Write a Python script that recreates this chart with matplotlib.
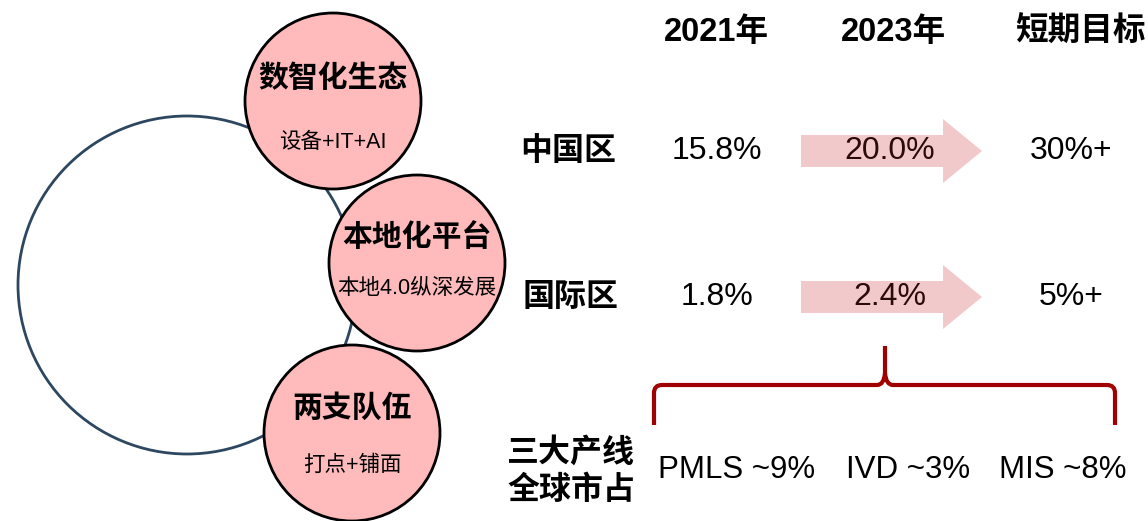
import matplotlib
matplotlib.use("Agg")
import matplotlib.pyplot as plt
import matplotlib.patches as mpatches
from matplotlib.path import Path

plt.rcParams['font.family'] = ['Liberation Sans', 'Noto Sans CJK SC', 'DejaVu Sans']

# data
columns = ["2021年", "2023年", "短期目标"]
regions = ["中国区", "国际区"]
share_2021 = ["15.8%", "1.8%"]
share_2023 = ["20.0%", "2.4%"]
share_target = ["30%+", "5%+"]
pillars = ["数智化生态", "本地化平台", "两支队伍"]
pillar_notes = ["设备+IT+AI", "本地4.0纵深发展", "打点+铺面"]
line_label = ["三大产线", "全球市占"]
line_shares = ["PMLS ~9%", "IVD ~3%", "MIS ~8%"]

fig = plt.figure(figsize=(11.48, 5.21), dpi=100)
ax = fig.add_axes([0, 0, 1, 1])
ax.set_xlim(0, 1148)
ax.set_ylim(521, 0)
ax.axis('off')

cjk = ['Noto Sans CJK SC', 'DejaVu Sans']

# big ring
ax.add_patch(mpatches.Circle((187, 285), 169, fill=False, ec='#2d4760', lw=2, zorder=1))

# three pillar circles
centers = [(333, 101), (417, 263), (352, 433)]
title_dy = [-23, -26, -25]
note_dy = [41, 25, 32]
for (cx, cy), name, note, tdy, ndy in zip(centers, pillars, pillar_notes, title_dy, note_dy):
    ax.add_patch(mpatches.Circle((cx, cy), 88, fc='#ffbbbb', ec='black', lw=2, zorder=2))
    ax.text(cx, cy + tdy, name, ha='center', va='center', fontsize=21.5,
            fontweight='bold', family=cjk, zorder=3)
    ax.text(cx, cy + ndy, note, ha='center', va='center', fontsize=15.5,
            family=['Liberation Sans', 'Noto Sans CJK SC'], zorder=3)

# table header
col_x = [716, 893, 1080]
for x, c in zip(col_x, columns):
    ax.text(x, 32, c, ha='center', va='center', fontsize=23.5, fontweight='bold')

# rows with arrows
row_y = [151, 297]
label_x = [568, 571]
for i, y in enumerate(row_y):
    ax.text(label_x[i], y, regions[i], ha='center', va='center', fontsize=23,
            fontweight='bold', family=cjk)
    ax.add_patch(mpatches.FancyArrow(801, y, 181, 0, width=32, head_width=64,
                                     head_length=39, length_includes_head=True,
                                     fc='#f2c9cb', ec='none', zorder=1))
    ax.text(717, y, share_2021[i], ha='center', va='center', fontsize=23)
    ax.text(890, y, share_2023[i], ha='center', va='center', fontsize=23,
            color='#2a0a0a', zorder=2)
    ax.text(1071, y, share_target[i], ha='center', va='center', fontsize=23)

# curly brace
xl, xm, xr = 654, 885, 1115
yb, yh, yt = 425, 385, 346
r = 8
verts = [(xl, yb), (xl, yh + r), (xl, yh), (xl + r, yh),
         (xm - 8, yh), (xm - 1, yh), (xm, yh - 12), (xm, yt),
         (xm, yh - 12), (xm + 1, yh), (xm + 8, yh),
         (xr - r, yh), (xr, yh), (xr, yh + r), (xr, yb)]
codes = [Path.MOVETO, Path.LINETO, Path.CURVE3, Path.CURVE3,
         Path.LINETO, Path.CURVE3, Path.CURVE3, Path.LINETO,
         Path.MOVETO, Path.CURVE3, Path.CURVE3,
         Path.LINETO, Path.CURVE3, Path.CURVE3, Path.LINETO]
ax.add_patch(mpatches.PathPatch(Path(verts, codes), fill=False, ec='#a00000',
                                lw=3, capstyle='butt', joinstyle='round'))

# market shares
for y, s in zip([453, 490], line_label):
    ax.text(571, y, s, ha='center', va='center', fontsize=23,
            fontweight='bold', family=cjk)
for x, s in zip([737, 908, 1063], line_shares):
    ax.text(x, 470, s, ha='center', va='center', fontsize=22.5)

fig.savefig('out.png', dpi=100)
